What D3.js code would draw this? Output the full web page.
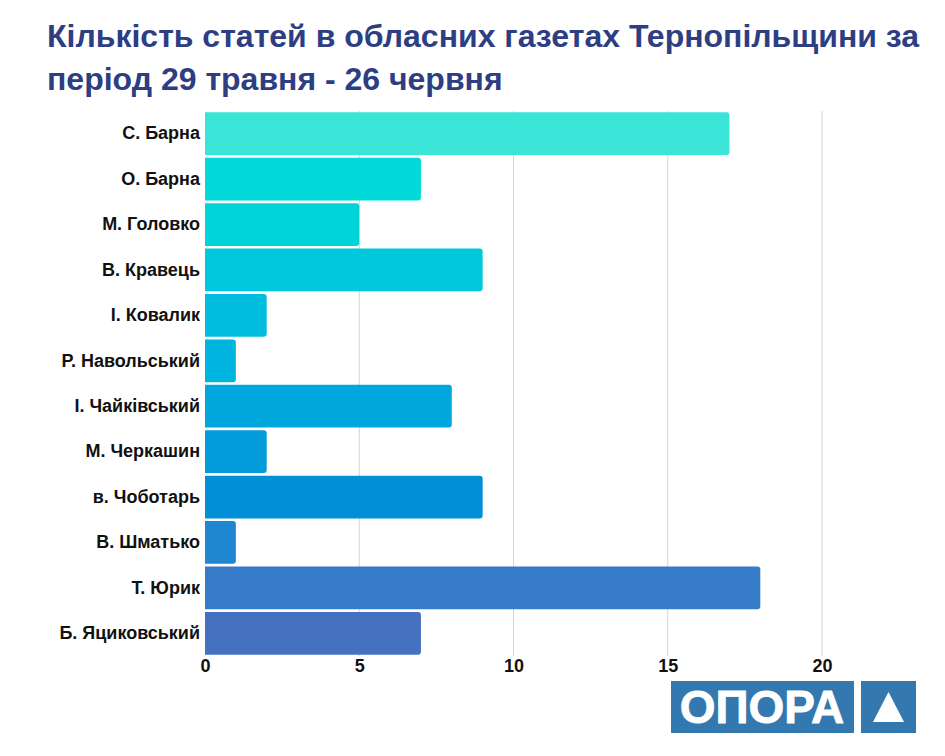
<!DOCTYPE html>
<html>
<head>
<meta charset="utf-8">
<script src="https://cdn.jsdelivr.net/npm/d3@7"></script>
<style>
  body { margin: 0; background: #fff; }
  svg text { font-family: "Liberation Sans", Arial, sans-serif; }
</style>
</head>
<body>
<div id="chart"></div>
<script>
const titleLines = ["Кількість статей в обласних газетах Тернопільщини за", "період 29 травня - 26 червня"];

const names = ["С. Барна", "О. Барна", "М. Головко", "В. Кравець", "І. Ковалик", "Р. Навольський",
  "І. Чайківський", "М. Черкашин", "в. Чоботарь", "В. Шматько", "Т. Юрик", "Б. Яциковський"];
const counts = [17, 7, 5, 9, 2, 1, 8, 2, 9, 1, 18, 7];
const barColors = ["#3ae4d6", "#00dbd9", "#00d3da", "#00c8dd", "#00bde0", "#00b4e0",
  "#00a7dc", "#019cd9", "#018fd6", "#1f86d2", "#367bc8", "#4571c0"];
const xTicks = [0, 5, 10, 15, 20];

const W = 945, H = 756;
const svg = d3.select('#chart').append('svg')
  .attr('width', W)
  .attr('height', H);

svg.selectAll('.title')
  .data(titleLines)
  .enter()
  .append('text')
    .attr('class', 'title')
    .attr('x', 47)
    .attr('y', (d, i) => 47 + i * 43)
    .attr('fill', '#2d3e82')
    .attr('font-size', 32)
    .attr('font-weight', 'bold')
    .text(d => d);

const x = d3.scaleLinear().domain([0, 20]).range([205, 822]);
const y = d3.scaleBand().domain(names).range([111, 656]).paddingInner(0.06).paddingOuter(0.03);

// grid
svg.selectAll('.grid')
  .data(xTicks.slice(1))
  .enter()
  .append('line')
    .attr('x1', d => x(d)).attr('x2', d => x(d))
    .attr('y1', 111).attr('y2', 656)
    .attr('stroke', '#d4d4d4')
    .attr('stroke-width', 1);

svg.selectAll('.bar')
  .data(names)
  .enter()
  .append('path')
    .attr('fill', (d, i) => barColors[i])
    .attr('d', (d, i) => {
      const x0 = x(0), x1 = x(counts[i]), y0 = y(d), h = y.bandwidth(), r = 3;
      return `M${x0},${y0}H${x1 - r}Q${x1},${y0} ${x1},${y0 + r}V${y0 + h - r}Q${x1},${y0 + h} ${x1 - r},${y0 + h}H${x0}Z`;
    });

const yAxis = svg.append('g')
  .attr('transform', 'translate(205,0)')
  .call(d3.axisLeft(y).tickSize(0).tickPadding(5));
yAxis.select('.domain').remove();
yAxis.selectAll('text')
  .attr('font-family', '"Liberation Sans", Arial, sans-serif')
  .attr('font-size', 18)
  .attr('font-weight', 'bold')
  .attr('fill', '#111');

const xAxis = svg.append('g')
  .attr('transform', 'translate(0,656)')
  .call(d3.axisBottom(x).tickValues(xTicks).tickSize(0).tickPadding(3));
xAxis.select('.domain').remove();
xAxis.selectAll('text')
  .attr('font-family', '"Liberation Sans", Arial, sans-serif')
  .attr('font-size', 18)
  .attr('font-weight', 'bold')
  .attr('fill', '#111');

// logo
const logo = svg.append('g');
logo.append('rect').attr('x', 671).attr('y', 681).attr('width', 183).attr('height', 52).attr('fill', '#3478b0');
logo.append('rect').attr('x', 861).attr('y', 681).attr('width', 55).attr('height', 52).attr('fill', '#3478b0');
logo.append('text')
  .attr('x', 762).attr('y', 723)
  .attr('text-anchor', 'middle')
  .attr('fill', '#fff')
  .attr('font-size', 46)
  .attr('font-weight', 'bold')
  .attr('font-family', '"Liberation Sans", Arial, sans-serif')
  .attr('stroke', '#fff')
  .attr('stroke-width', 0.8)
  .text('ОПОРА');
logo.append('path')
  .attr('d', 'M888.5,692L904,722H873Z')
  .attr('fill', '#fff');
</script>
</body>
</html>
